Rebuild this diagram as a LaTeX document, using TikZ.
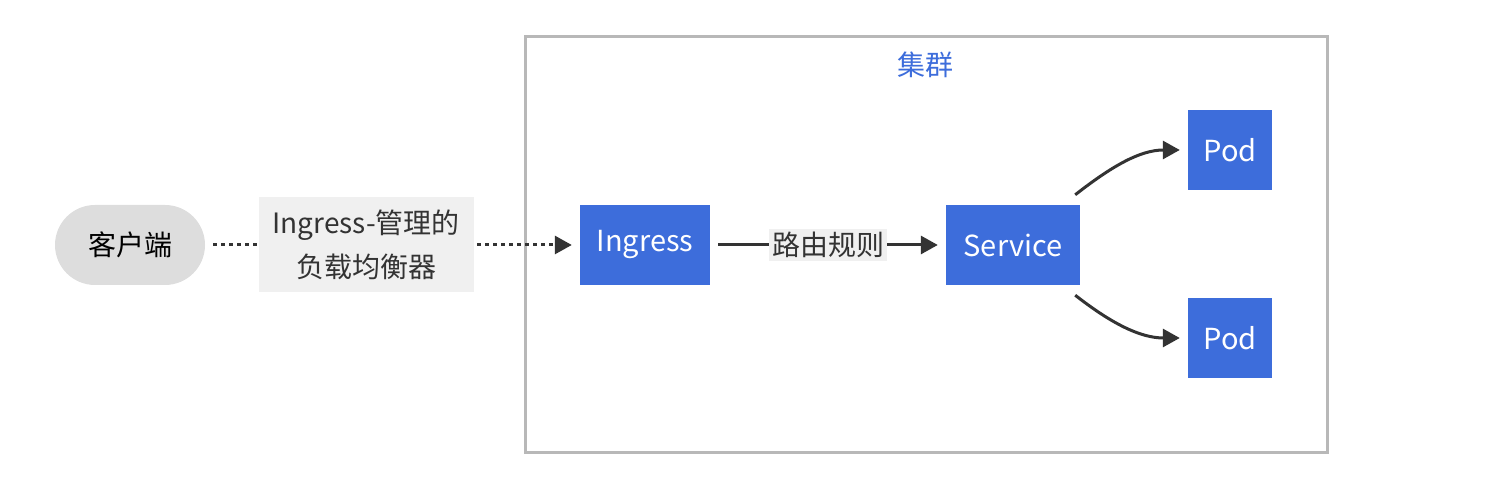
\documentclass[tikz,border=0pt]{standalone}
\usepackage{fontspec}
\setmainfont{Noto Sans CJK SC}
\usetikzlibrary{arrows.meta,positioning}
\definecolor{kblue}{HTML}{3D6DDB}
\definecolor{kgray}{HTML}{DDDDDD}
\definecolor{klabel}{HTML}{F0F0F0}
\definecolor{kline}{HTML}{333333}

\begin{document}
\begin{tikzpicture}[x=1pt,y=1pt,
    box/.style={fill=kblue,text=white,minimum width=130pt,minimum height=80pt,
        font=\fontsize{29}{34}\selectfont},
    pod/.style={box,minimum width=84pt,minimum height=80pt},
    client/.style={fill=kgray,minimum width=150pt,minimum height=80pt,
        rounded corners=40pt,font=\fontsize{28}{34}\selectfont},
    lbl/.style={fill=klabel,text=black!80,font=\fontsize{28}{44}\selectfont},
    arr/.style={draw=kline,line width=3pt,-{Triangle[length=17pt,width=18pt]},
        shorten <=8pt,shorten >=8pt}]
    \useasboundingbox (0,0) rectangle (1488,486);

    % cluster
    \node[draw=black!28,line width=3pt,minimum width=802pt,minimum height=416pt] (cluster) at (926,241) {};
    \node[text=kblue,font=\fontsize{28}{34}\selectfont] (title) at (925,421) {集群};

    \node[client] (c) at (130,241) {客户端};
    \node[box] (ing) at (645,241) {Ingress};
    \node[box,minimum width=134pt] (svc) at (1013,241) {Service};
    \node[pod] (p1) at (1230,336) {Pod};
    \node[pod] (p2) at (1230,148) {Pod};

    \draw[arr,dash pattern=on 4pt off 4pt] (c) -- node[lbl,pos=0.43,align=center,inner sep=4pt,minimum width=215pt,minimum height=95pt]
        {Ingress-管理的\\负载均衡器} (ing);
    \draw[arr] (ing) -- node[lbl,inner sep=3pt] {路由规则} (svc);
    \draw[arr,shorten <=0pt] ([xshift=-5pt,yshift=10pt]svc.north east) to[out=38,in=180] (p1);
    \draw[arr,shorten <=0pt] ([xshift=-5pt,yshift=-10pt]svc.south east) to[out=-38,in=180] (p2);
\end{tikzpicture}
\end{document}
